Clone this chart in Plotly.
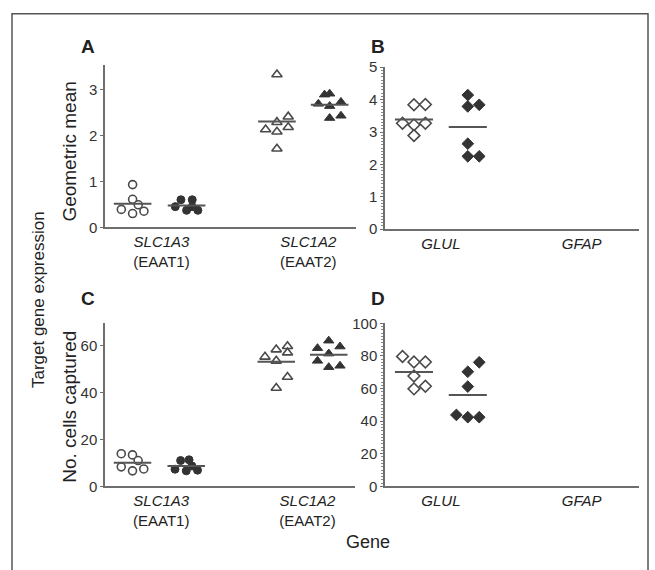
import plotly.graph_objects as go
import numpy as np

# ---------------- data ----------------
gene_labels_ac = ["<i>SLC1A3</i><br>(EAAT1)", "<i>SLC1A2</i><br>(EAAT2)"]
gene_labels_bd = ["<i>GLUL</i>", "<i>GFAP</i>"]

# Panel A: geometric mean
A_slc1a3_open = [0.93, 0.61, 0.49, 0.39, 0.30, 0.35]
A_slc1a3_fill = [0.60, 0.60, 0.45, 0.37, 0.37, 0.45]
A_slc1a2_open = [3.33, 2.29, 2.41, 2.13, 2.08, 2.18, 1.71]
A_slc1a2_fill = [2.89, 2.91, 2.69, 2.64, 2.73, 2.38, 2.43]

# Panel B: geometric mean
B_glul_open = [3.84, 3.85, 3.27, 3.22, 3.27, 2.89]
B_glul_fill = [4.14, 3.79, 3.84, 2.64, 2.25, 2.25]

# Panel C: number of cells captured
C_slc1a3_open = [13.9, 13.4, 11.0, 8.3, 6.6, 7.4]
C_slc1a3_fill = [11.0, 11.3, 7.3, 6.6, 6.9, 8.7]
C_slc1a2_open = [55.2, 58.3, 59.7, 57.0, 53.5, 46.6, 41.9]
C_slc1a2_fill = [62.1, 58.9, 59.6, 56.6, 53.5, 50.8, 51.4]

# Panel D: number of cells captured
D_glul_open = [79.7, 76.3, 76.3, 67.7, 59.8, 61.4]
D_glul_fill = [76.1, 70.3, 61.2, 43.8, 42.4, 42.4]

# ---------------- layout: positions / jitter ----------------
POS_AC = [1.1, 3.25, 6.85, 8.95]      # group centres, panels A/C
LAB_AC = [2.25, 8.1]                  # gene label positions
POS_BD = [1.14, 3.26]
LAB_BD = [2.2, 7.74]
COL = 0.45                            # jitter column width
HALF = 0.75                           # half-width of mean line

jit = {
    "A0": [0, 0, 0.5, -1, 0, 1],
    "A1": [-0.5, 0.5, -1, 0, 1, 0.5],
    "A2": [0, 0, 1, -1, 0, 1, 0],
    "A3": [-0.45, 0, -1, 0, 1, 0, 1],
    "B0": [0, 1, -1, 0, 1, 0],
    "B1": [0, 0, 1, 0, 0, 1],
    "C0": [-1, 0, 0.5, -1, 0, 1],
    "C1": [-0.5, 0.25, -1, 0, 1, 0.5],
    "C2": [-1, 0, 1, 1, 0, 1, 0],
    "C3": [0, -1, 1, 0, -1, 0, 1],
    "D0": [-1, 0, 1, 0, 0, 1],
    "D1": [1, 0, 0, -1, 0, 1],
}

DARK = "#333333"
EDGE = "#4a4a4a"
AXC = "#6e6e6e"
FONT = "Liberation Sans"

def style(kind, filled):
    sym = {"c": "circle", "t": "triangle-up", "d": "diamond"}[kind]
    size = {"c": 8, "t": 9, "d": 9}[kind]
    if filled:
        return dict(symbol=sym, size=size, color=DARK, line=dict(color=DARK, width=1))
    return dict(symbol=sym, size=size, color="white", line=dict(color=EDGE, width=1.6))

fig = go.Figure()

def add_group(vals, jkey, centre, kind, filled, xa, ya):
    xs = [centre + j * COL for j in jit[jkey]]
    fig.add_trace(go.Scatter(x=xs, y=vals, mode="markers", marker=style(kind, filled),
                             xaxis=xa, yaxis=ya, showlegend=False, hoverinfo="y"))
    m = float(np.mean(vals))
    fig.add_trace(go.Scatter(x=[centre - HALF, centre + HALF], y=[m, m], mode="lines",
                             line=dict(color="#555555", width=2), xaxis=xa, yaxis=ya,
                             showlegend=False, hoverinfo="skip"))

# A
add_group(A_slc1a3_open, "A0", POS_AC[0], "c", False, "x", "y")
add_group(A_slc1a3_fill, "A1", POS_AC[1], "c", True, "x", "y")
add_group(A_slc1a2_open, "A2", POS_AC[2], "t", False, "x", "y")
add_group(A_slc1a2_fill, "A3", POS_AC[3], "t", True, "x", "y")
# B
add_group(B_glul_open, "B0", POS_BD[0], "d", False, "x2", "y2")
add_group(B_glul_fill, "B1", POS_BD[1], "d", True, "x2", "y2")
# C
add_group(C_slc1a3_open, "C0", POS_AC[0], "c", False, "x3", "y3")
add_group(C_slc1a3_fill, "C1", POS_AC[1], "c", True, "x3", "y3")
add_group(C_slc1a2_open, "C2", POS_AC[2], "t", False, "x3", "y3")
add_group(C_slc1a2_fill, "C3", POS_AC[3], "t", True, "x3", "y3")
# D
add_group(D_glul_open, "D0", POS_BD[0], "d", False, "x4", "y4")
add_group(D_glul_fill, "D1", POS_BD[1], "d", True, "x4", "y4")

W, H = 655, 570
def px(x): return x / W
def py(y): return 1 - y / H

tickfont = dict(family=FONT, size=15, color="#333333")
xtickfont = dict(family=FONT, size=15, color="#222222")

def xaxis(dom, vals, labels, anchor):
    return dict(domain=[px(dom[0]), px(dom[1])], range=[0, 10], anchor=anchor,
                showline=True, linecolor=AXC, linewidth=1.5, showgrid=False, zeroline=False,
                tickvals=vals, ticktext=labels, ticks="", tickfont=xtickfont, fixedrange=True)

def yaxis(dom, rng, dtick, anchor, minor=None):
    d = dict(domain=[py(dom[1]), py(dom[0])], range=rng, anchor=anchor, dtick=dtick,
             showline=True, linecolor=AXC, linewidth=1.5, showgrid=False, zeroline=False,
             ticks="outside", ticklen=3, tickcolor=AXC, tickwidth=1, tickfont=tickfont,
             fixedrange=True)
    if minor:
        d["minor"] = dict(dtick=minor, ticks="outside", ticklen=2, tickcolor="#888888", tickwidth=1)
    return d

fig.update_layout(
    width=W, height=H, margin=dict(l=0, r=0, t=0, b=0),
    paper_bgcolor="white", plot_bgcolor="white",
    xaxis=xaxis((105, 356), LAB_AC, gene_labels_ac, "y"),
    yaxis=yaxis((58, 225), [0, 3.53], 1, "x"),
    xaxis2=xaxis((385, 639), LAB_BD, gene_labels_bd, "y2"),
    yaxis2=yaxis((60, 227), [0, 5], 1, "x2", minor=0.1),
    xaxis3=xaxis((105, 355), LAB_AC, gene_labels_ac, "y3"),
    yaxis3=yaxis((324, 492), [0, 69.5], 20, "x3"),
    xaxis4=xaxis((385, 639), LAB_BD, gene_labels_bd, "y4"),
    yaxis4=yaxis((324, 492), [0, 100], 20, "x4", minor=2),
)

ann = []
def text(x, y, s, size, angle=0, bold=False):
    ann.append(dict(x=px(x), y=py(y), xref="paper", yref="paper", text=(f"<b>{s}</b>" if bold else s),
                    showarrow=False, textangle=angle, xanchor="center", yanchor="middle",
                    font=dict(family=FONT, size=size, color="#222222")))

text(88, 39, "A", 19, bold=True)
text(378, 39, "B", 19, bold=True)
text(88, 298, "C", 19, bold=True)
text(378, 298, "D", 19, bold=True)
text(70, 147, "Geometric mean", 19, angle=-90)
text(70, 410, "No. cells captured", 19, angle=-90)
text(38, 300, "Target gene expression", 17, angle=-90)
text(368, 549, "Gene", 18)
fig.update_layout(annotations=ann)

fig.add_shape(type="rect", xref="paper", yref="paper", x0=px(12), x1=px(648), y0=-0.05, y1=py(5),
              line=dict(color="#555555", width=1.5), fillcolor="rgba(0,0,0,0)")

fig.write_html("out.html", config={"displayModeBar": False},
               post_script="document.body.style.margin='0px';")
